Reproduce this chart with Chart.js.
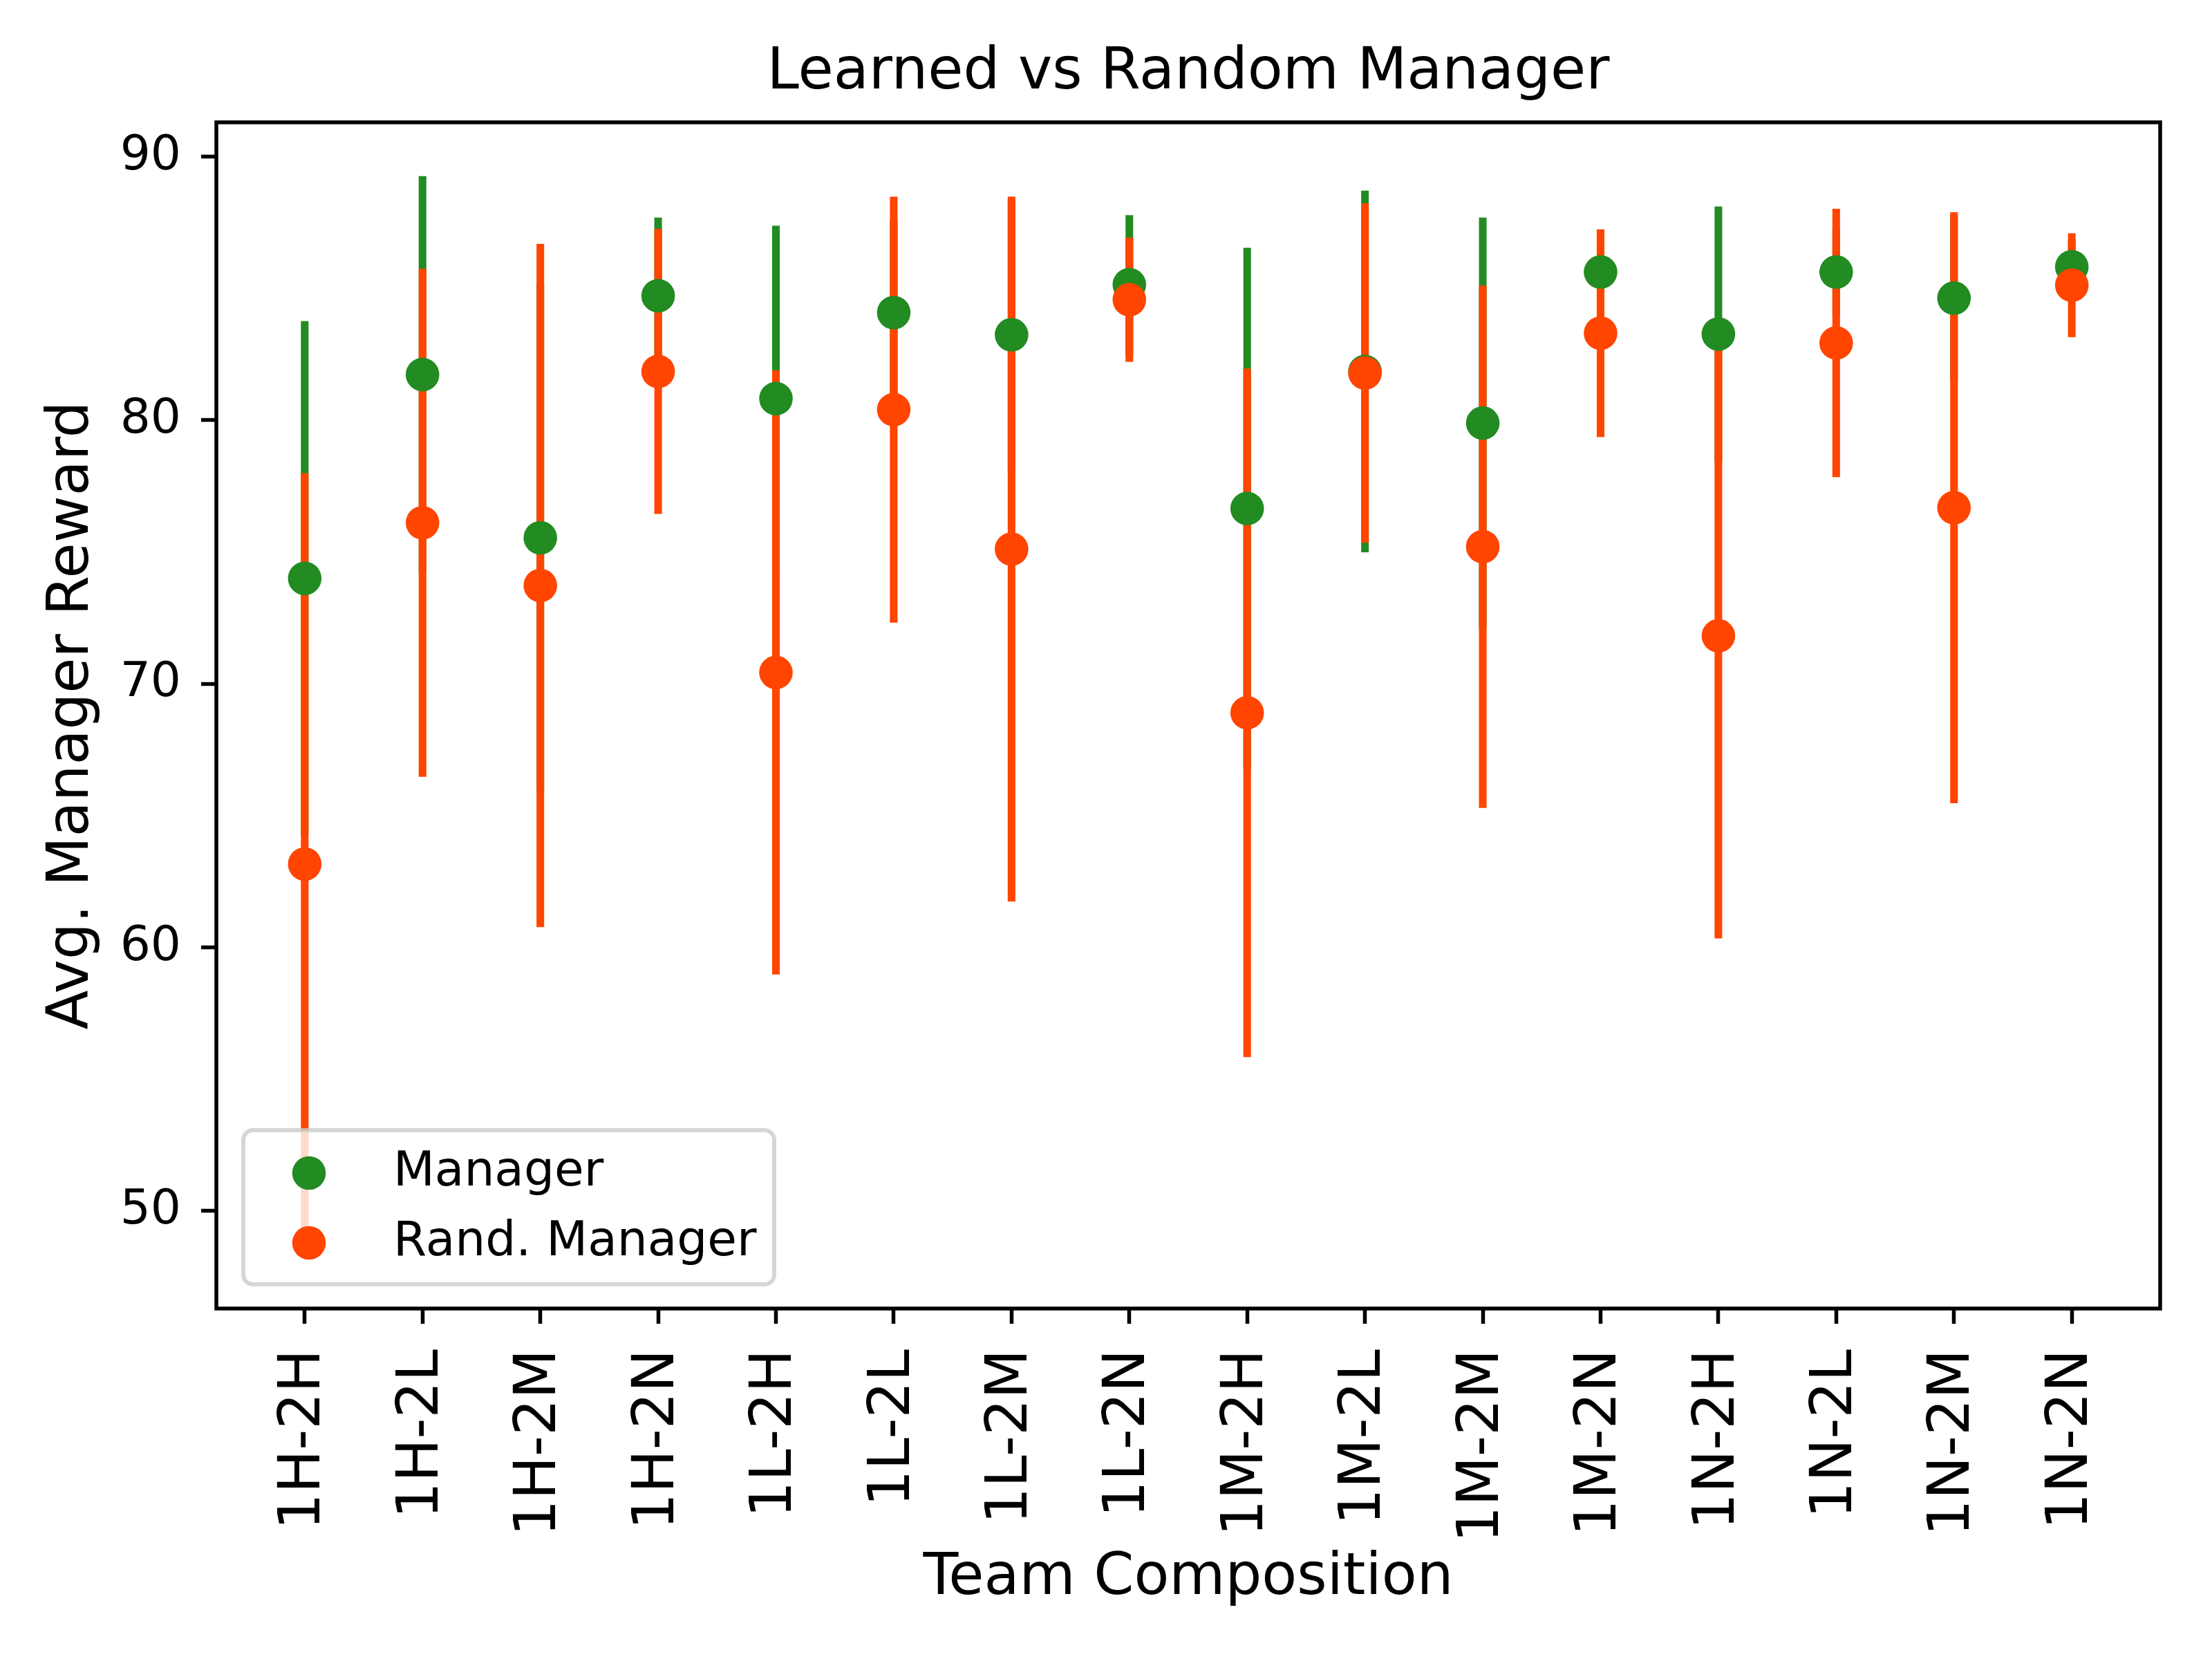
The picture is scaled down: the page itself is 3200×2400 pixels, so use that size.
<!DOCTYPE html>
<html>
<head>
<meta charset="utf-8">
<title>Learned vs Random Manager</title>
<script src="https://cdn.jsdelivr.net/npm/chart.js@4.4.1/dist/chart.umd.min.js"></script>
<style>
  body { margin: 0; background: #fff; }
  canvas { display: block; }
</style>
</head>
<body>
<canvas id="canvasReward" width="3200" height="2400" style="width:3200px;height:2400px"></canvas>
<script>
// values
var teams = ['1H-2H', '1H-2L', '1H-2M', '1H-2N', '1L-2H', '1L-2L', '1L-2M', '1L-2N',
             '1M-2H', '1M-2L', '1M-2M', '1M-2N', '1N-2H', '1N-2L', '1N-2M', '1N-2N'];
var managerMean = [74.0, 81.73, 75.54, 84.72, 80.82, 84.08, 83.24, 85.14,
                   76.65, 81.85, 79.89, 85.62, 83.27, 85.62, 84.63, 85.82];
var managerStd = [9.75, 7.52, 9.6, 2.96, 6.55, 3.5, 5.14, 2.63,
                  9.88, 6.85, 7.79, 1.57, 4.83, 1.65, 3.14, 1.0];
var randMean = [63.16, 76.11, 73.73, 81.85, 70.43, 80.4, 75.11, 84.57,
                68.9, 81.79, 75.2, 83.3, 71.82, 82.93, 76.68, 85.12];
var randStd = [14.82, 9.63, 12.95, 5.4, 11.45, 8.07, 13.36, 2.35,
               13.05, 6.43, 9.9, 3.93, 11.47, 5.08, 11.2, 1.96];
var yTicks = [50, 60, 70, 80, 90];

var green = '#228B22';
var orange = '#FF4500';
var font = 'DejaVu Sans';

function points(mean) {
  var out = [];
  for (var i in mean) out.push({x: Number(i), y: mean[i]});
  return out;
}
function ranges(mean, std) {
  var out = [];
  for (var i in mean) out.push({x: Number(i), y: [mean[i] - std[i], mean[i] + std[i]]});
  return out;
}

// axes frame on all four sides
var frame = {
  id: 'frame',
  afterDatasetsDraw: function(chart) {
    var a = chart.chartArea, ctx = chart.ctx;
    ctx.save();
    ctx.strokeStyle = '#000';
    ctx.lineWidth = 5.5;
    ctx.strokeRect(a.left, a.top, a.right - a.left, a.bottom - a.top);
    ctx.restore();
  }
};

// legend inside the plot, lower left, like matplotlib
var innerLegend = {
  id: 'innerLegend',
  afterDraw: function(chart) {
    var a = chart.chartArea, ctx = chart.ctx;
    var w = 768, h = 223, r = 14;
    var x = a.left + 39, y = a.bottom - 35 - h;
    ctx.save();
    ctx.beginPath();
    ctx.moveTo(x + r, y);
    ctx.arcTo(x + w, y, x + w, y + h, r);
    ctx.arcTo(x + w, y + h, x, y + h, r);
    ctx.arcTo(x, y + h, x, y, r);
    ctx.arcTo(x, y, x + w, y, r);
    ctx.closePath();
    ctx.fillStyle = 'rgba(255,255,255,0.8)';
    ctx.fill();
    ctx.lineWidth = 6;
    ctx.strokeStyle = 'rgba(204,204,204,0.8)';
    ctx.stroke();

    var items = chart.data.datasets.filter(function(d) { return d.type === 'scatter'; });
    ctx.font = '69.4px "' + font + '"';
    ctx.textBaseline = 'alphabetic';
    ctx.textAlign = 'left';
    items.forEach(function(d, k) {
      var cy = y + 62 + k * 101;
      ctx.beginPath();
      ctx.arc(x + 95, cy, 24.3, 0, Math.PI * 2);
      ctx.fillStyle = d.backgroundColor;
      ctx.fill();
      ctx.fillStyle = '#000';
      ctx.fillText(d.label, x + 217, cy + 18);
    });
    ctx.restore();
  }
};

var ctx = document.getElementById('canvasReward');

var chart = new Chart(ctx, {
  type: 'scatter',
  data: {
    datasets: [
      {
        type: 'bar',
        label: 'Manager std',
        data: ranges(managerMean, managerStd),
        backgroundColor: green,
        barThickness: 10.4,
        borderWidth: 0,
        grouped: false,
        order: 4
      },
      {
        type: 'bar',
        label: 'Rand. Manager std',
        data: ranges(randMean, randStd),
        backgroundColor: orange,
        barThickness: 10.4,
        borderWidth: 0,
        grouped: false,
        order: 3
      },
      {
        type: 'scatter',
        label: 'Manager',
        data: points(managerMean),
        backgroundColor: green,
        pointRadius: 24.3,
        pointHoverRadius: 24.3,
        borderWidth: 0,
        order: 2
      },
      {
        type: 'scatter',
        label: 'Rand. Manager',
        data: points(randMean),
        backgroundColor: orange,
        pointRadius: 24.3,
        pointHoverRadius: 24.3,
        borderWidth: 0,
        order: 1
      }
    ]
  },
  options: {
    responsive: false,
    devicePixelRatio: 1,
    animation: false,
    events: [],
    layout: { padding: { left: 0, right: 75, top: 0, bottom: 0 } },
    scales: {
      x: {
        type: 'linear',
        min: -0.75,
        max: 15.75,
        offset: false,
        afterBuildTicks: function(s) {
          s.ticks = teams.map(function(t, i) { return {value: i}; });
        },
        afterFit: function(s) { s.height = 507; },
        ticks: {
          autoSkip: false,
          minRotation: 90,
          maxRotation: 90,
          padding: 37,
          color: '#000',
          font: { family: font, size: 83.3 },
          callback: function(v) { return teams[v]; }
        },
        grid: {
          offset: false,
          drawOnChartArea: false,
          drawTicks: true,
          tickLength: 22,
          tickWidth: 5.5,
          tickColor: '#000'
        },
        border: { display: false },
        title: {
          display: true,
          text: 'Team Composition',
          color: '#000',
          font: { family: font, size: 83.3 },
          padding: { top: 0, bottom: 66 }
        }
      },
      y: {
        type: 'linear',
        min: 46.3,
        max: 91.3,
        afterBuildTicks: function(s) {
          s.ticks = yTicks.map(function(v) { return {value: v}; });
        },
        afterFit: function(s) { s.width = 313; },
        ticks: {
          padding: 29,
          color: '#000',
          font: { family: font, size: 69.4 }
        },
        grid: {
          drawOnChartArea: false,
          drawTicks: true,
          tickLength: 22,
          tickWidth: 5.5,
          tickColor: '#000'
        },
        border: { display: false },
        title: {
          display: true,
          text: 'Avg. Manager Reward',
          color: '#000',
          font: { family: font, size: 83.3 },
          padding: { top: 55.5, bottom: 0 }
        }
      }
    },
    plugins: {
      legend: { display: false },
      tooltip: { enabled: false },
      title: {
        display: true,
        text: 'Learned vs Random Manager',
        color: '#000',
        fullSize: false,
        font: { family: font, size: 83.3, weight: 'normal' },
        padding: { top: 56, bottom: 21 }
      }
    }
  },
  plugins: [frame, innerLegend]
});
</script>
</body>
</html>
